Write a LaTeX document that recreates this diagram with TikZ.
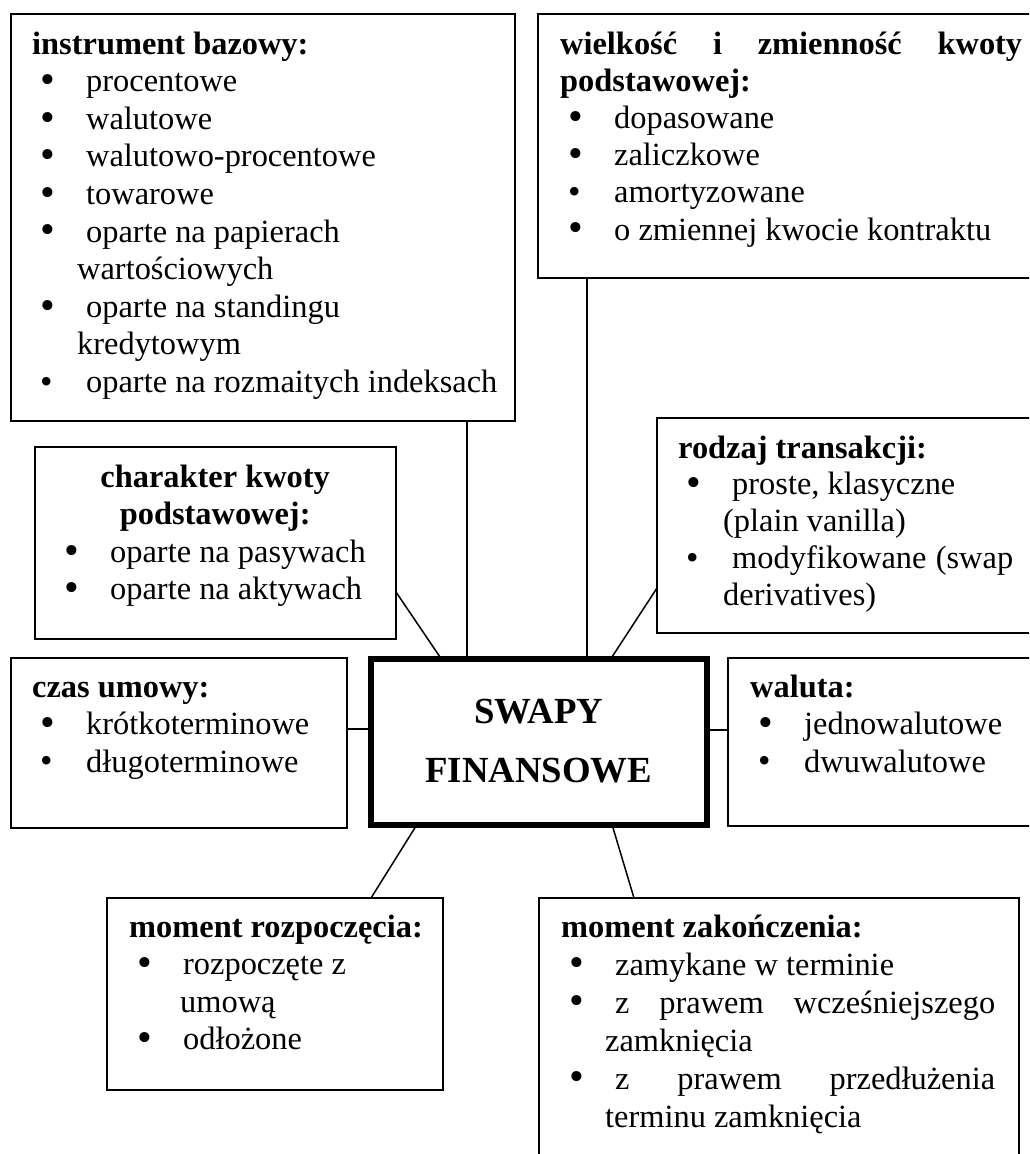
\documentclass[tikz,border=0pt]{standalone}
\usepackage{fontspec}
\setmainfont{Liberation Serif}
\usepackage{graphicx}
\newcommand{\nsp}{\spaceskip=0pt\relax\xspaceskip=0pt\relax}
\newcommand{\blt}{\raisebox{-0.06em}{\scalebox{1.3}{\textbullet}}}
\newcommand{\sblt}{\raisebox{-0.02em}{\scalebox{1.1}{\textbullet}}}
\newcommand{\itm}[1]{\hspace*{8pt}\makebox[46pt][l]{\blt}#1}
\newcommand{\itms}[1]{\hspace*{8pt}\makebox[46pt][l]{\sblt}#1}
\newcommand{\cnt}[2][45pt]{\hspace*{#1}#2}
\begin{document}
\begin{tikzpicture}[x=1pt,y=-1pt]
% Styles
\tikzstyle{box}=[draw,line width=2pt,inner sep=0pt,outer sep=0pt,anchor=north west]
\tikzstyle{core}=[draw,line width=6pt,inner sep=0pt,outer sep=0pt]
\tikzstyle{txt}=[anchor=base west,inner sep=0pt,text width=480pt,font=\fontsize{32.4}{37.6}\selectfont]
\tikzstyle{link}=[line width=1.5pt]

% Page and clipping (boxes on the right run off the page).
\useasboundingbox (0,0) rectangle (1029,1154);
\clip (0,0) rectangle (1029,1154);

% Coordinates for the connectors.
\coordinate (cA) at (467,0);	% instrument bazowy -> core.
\coordinate (cB) at (587,0);	% wielkosc -> core.
\coordinate (cC) at (441,592);	% charakter -> core.
\coordinate (cD) at (0,729);	% czas umowy -> core.
\coordinate (cE) at (611,588);	% rodzaj transakcji -> core.
\coordinate (cF) at (0,730);	% waluta -> core.
\coordinate (gU) at (417,0);	% core -> moment rozpoczecia (top end).
\coordinate (gD) at (371,0);	% core -> moment rozpoczecia (bottom end).
\coordinate (hU) at (612,0);	% core -> moment zakonczenia (top end).
\coordinate (hD) at (634,0);	% core -> moment zakonczenia (bottom end).

% Frames.
\node[box,minimum width=504pt,minimum height=407pt] (instr) at (11,14) {};
\node[box,minimum width=520pt,minimum height=264pt] (size) at (538,14) {};
\node[box,minimum width=361pt,minimum height=192pt] (notion) at (35,447) {};
\node[box,minimum width=336pt,minimum height=170pt] (term) at (11,658) {};
\node[box,minimum width=400pt,minimum height=215pt] (deal) at (657,418) {};
\node[box,minimum width=330pt,minimum height=168pt] (curr) at (728,658) {};
\node[box,minimum width=336pt,minimum height=192pt] (start) at (107,898) {};
\node[box,minimum width=480pt,minimum height=300pt] (close) at (539,898) {};
\node[core,minimum width=335.5pt,minimum height=166pt] (swap) at (538.75,741.5) {};

% Texts.
\node[align=center,inner sep=0pt,font=\bfseries\fontsize{36.8}{59}\selectfont] (swaptxt) at (swap.center) {SWAPY\\FINANSOWE};
\node[txt] (instrtxt) at (32,54) {\nsp\textbf{instrument bazowy:}\\
  \itm{procentowe}\\
  \itm{walutowe}\\
  \itm{walutowo-procentowe}\\
  \itm{towarowe}\\
  \itm{oparte na papierach}\\
  \cnt{wartościowych}\\
  \itm{oparte na standingu}\\
  \cnt{kredytowym}\\
  \itms{oparte na rozmaitych indeksach}};
\node[txt,font=\fontsize{32.4}{37.2}\selectfont] (sizetxt) at (560,54) {\nsp\makebox[462pt][s]{\textbf{wielkość i zmienność kwoty}}\\
  \textbf{podstawowej:}\\
  \itm{dopasowane}\\
  \itm{zaliczkowe}\\
  \itms{amortyzowane}\\
  \itm{o zmiennej kwocie kontraktu}};
\node[txt] (notiontxt) at (56,487) {\nsp\makebox[318pt]{\textbf{charakter kwoty}}\\
  \makebox[318pt]{\textbf{podstawowej:}}\\
  \itm{oparte na pasywach}\\
  \itm{oparte na aktywach}};
\node[txt] (termtxt) at (32,697) {\nsp\textbf{czas umowy:}\\
  \itm{krótkoterminowe}\\
  \itms{długoterminowe}};
\node[txt,font=\fontsize{32.4}{36.8}\selectfont] (dealtxt) at (678,458) {\nsp\textbf{rodzaj transakcji:}\\
  \itm{proste, klasyczne}\\
  \cnt{(plain vanilla)}\\
  \itms{\makebox[281pt][s]{modyfikowane (swap}}\\
  \cnt{derivatives)}};
\node[txt] (currtxt) at (750,697) {\nsp\textbf{waluta:}\\
  \itm{jednowalutowe}\\
  \itms{dwuwalutowe}};
\node[txt] (starttxt) at (129,937) {\nsp\textbf{moment rozpoczęcia:}\\
  \itm{rozpoczęte z}\\
  \cnt[51pt]{umową}\\
  \itm{odłożone}};
\node[txt,font=\fontsize{32.4}{38}\selectfont] (closetxt) at (561,937) {\nsp\textbf{moment zakończenia:}\\
  \itm{zamykane w terminie}\\
  \itm{\makebox[380pt][s]{z prawem wcześniejszego}}\\
  \cnt[44pt]{zamknięcia}\\
  \itm{\makebox[380pt][s]{z prawem przedłużenia}}\\
  \cnt[44pt]{terminu zamknięcia}};

% Connectors.
\draw[link] (instr.south -| cA) -- (swap.north -| cA);
\draw[link] (size.south -| cB) -- (swap.north -| cB);
\draw[link] (notion.east |- cC) -- (swap.north -| cC);
\draw[link] (term.east |- cD) -- (swap.west |- cD);
\draw[link] (deal.west |- cE) -- (swap.north -| cE);
\draw[link] (swap.east |- cF) -- (curr.west |- cF);
\draw[link] (swap.south -| gU) -- (start.north -| gD);
\draw[link] (swap.south -| hU) -- (close.north -| hD);
\end{tikzpicture}
\end{document}
